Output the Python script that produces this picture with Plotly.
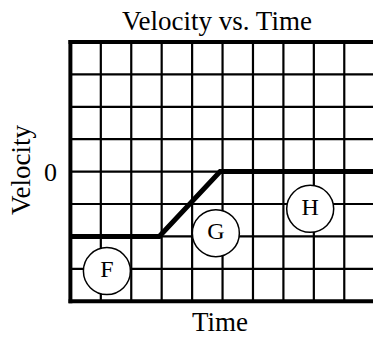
import plotly.graph_objects as go

# ---- data ----
time_pts = [0, 2.92, 4.92, 10]
velocity_pts = [-2, -2, 0, 0]

label_names = ["F", "G", "H"]
label_time = [1.2, 4.78, 7.88]
label_velocity = [-3.07, -1.9, -1.15]

y_tick_vals = [0]
y_tick_text = ["0"]

title_text = "Velocity vs. Time"
x_title = "Time"
y_title = "Velocity"

FONT = "Liberation Serif, Times New Roman, serif"

fig = go.Figure()

# velocity line
fig.add_trace(go.Scatter(
    x=time_pts, y=velocity_pts, mode="lines",
    line=dict(color="black", width=5), hoverinfo="skip", showlegend=False,
))

# circled labels
fig.add_trace(go.Scatter(
    x=label_time, y=label_velocity, mode="markers+text",
    text=label_names, textposition="middle center",
    textfont=dict(family=FONT, size=24, color="black"),
    marker=dict(symbol="circle", size=47, color="white",
                line=dict(color="black", width=1.5)),
    hoverinfo="skip", showlegend=False,
))

shapes = []
# grid lines
for gx in range(1, 10):
    shapes.append(dict(type="line", xref="x", yref="y", x0=gx, x1=gx, y0=-4, y1=4,
                       line=dict(color="black", width=2.2), layer="below"))
for gy in range(-3, 4):
    shapes.append(dict(type="line", xref="x", yref="y", x0=0, x1=10, y0=gy, y1=gy,
                       line=dict(color="black", width=2.2), layer="below"))
# thick border
shapes.append(dict(type="line", xref="x", yref="y", x0=0, x1=0, y0=-4.06, y1=4.06,
                   line=dict(color="black", width=4), layer="below"))
for by in (-4, 4):
    shapes.append(dict(type="line", xref="x", yref="y", x0=-0.06, x1=10, y0=by, y1=by,
                       line=dict(color="black", width=4), layer="below"))

fig.update_layout(
    width=373, height=339, autosize=False,
    margin=dict(l=64, r=0, t=36, b=33, pad=0),
    paper_bgcolor="white", plot_bgcolor="white",
    font=dict(family=FONT, color="black"),
    shapes=shapes,
    title=dict(text=title_text, xref="container", yref="container",
               x=217 / 373, y=1 - 21 / 339, xanchor="center", yanchor="middle",
               font=dict(family=FONT, size=27, color="black")),
    xaxis=dict(range=[-0.21, 9.944], showgrid=False, zeroline=False,
               showticklabels=False, showline=False, ticks="", fixedrange=True),
    yaxis=dict(range=[-4.148, 4.185], showgrid=False, zeroline=False,
               tickvals=y_tick_vals, ticktext=y_tick_text, ticks="",
               ticklabelstandoff=6,
               tickfont=dict(family=FONT, size=26, color="black"),
               showline=False, fixedrange=True),
    annotations=[
        dict(text=x_title, xref="paper", yref="paper", x=(220 - 64) / 309,
             y=-(338 - 306) / 270, xanchor="center", yanchor="bottom",
             showarrow=False, borderpad=0,
             font=dict(family=FONT, size=27, color="black")),
        dict(text=y_title, xref="paper", yref="paper", x=-(64 - 21) / 309,
             y=(306 - 170) / 270, xanchor="center", yanchor="middle", textangle=-90,
             showarrow=False, font=dict(family=FONT, size=27, color="black")),
    ],
)

fig.write_html(
    "out.html",
    config={"displayModeBar": False, "staticPlot": True},
    post_script="document.body.style.margin='0';document.body.style.overflow='hidden';",
)
